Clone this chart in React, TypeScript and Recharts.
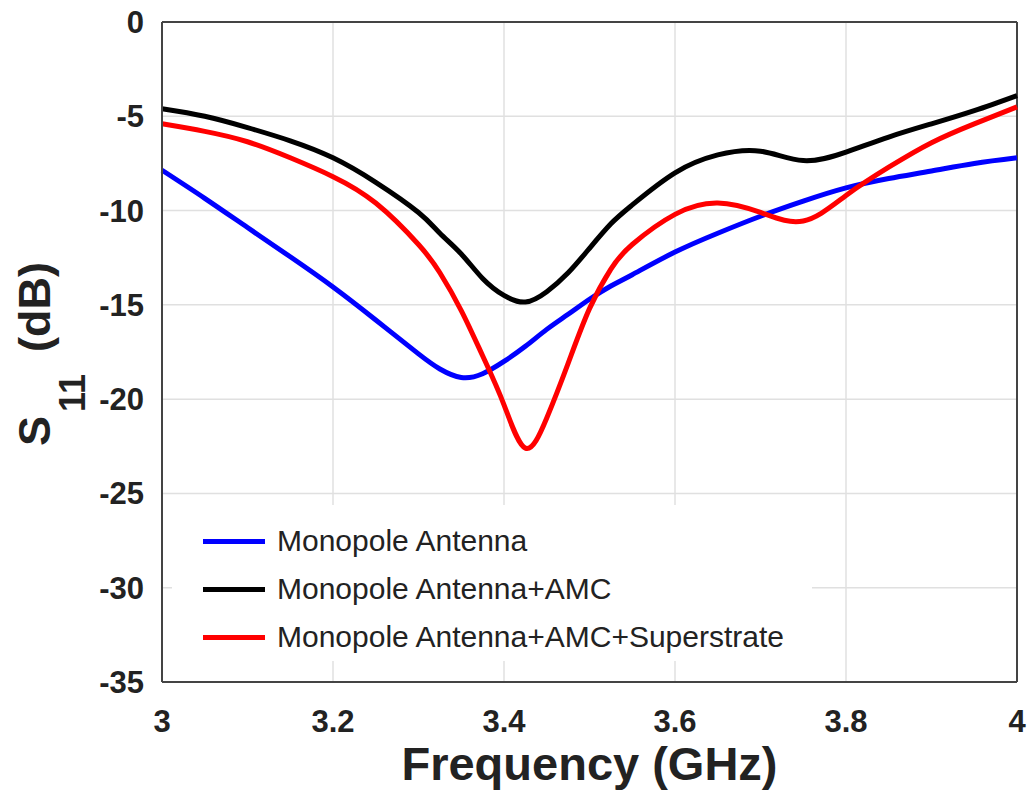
import React from "react";
import {
  LineChart,
  Line,
  XAxis,
  YAxis,
  CartesianGrid,
  Legend,
  ReferenceLine,
} from "recharts";

// frequency samples (GHz)
const freqs = [
  3.0, 3.05, 3.1, 3.15, 3.2, 3.25, 3.3, 3.325, 3.35, 3.375, 3.4, 3.425, 3.45,
  3.475, 3.5, 3.525, 3.55, 3.6, 3.65, 3.7, 3.75, 3.8, 3.85, 3.9, 3.95, 4.0,
];

// S11 (dB)
const monopole = [
  -7.86, -9.35, -10.9, -12.45, -14.05, -15.8, -17.6, -18.4, -18.85, -18.65,
  -18.0, -17.2, -16.3, -15.5, -14.7, -14.0, -13.4, -12.2, -11.2, -10.3, -9.5,
  -8.8, -8.3, -7.9, -7.5, -7.2,
];
const monopoleAmc = [
  -4.6, -5.0, -5.6, -6.3, -7.2, -8.5, -10.1, -11.2, -12.3, -13.6, -14.5,
  -14.85, -14.3, -13.3, -12.0, -10.7, -9.7, -8.0, -7.05, -6.85, -7.35, -6.9,
  -6.1, -5.4, -4.7, -3.9,
];
const monopoleAmcSuper = [
  -5.4, -5.8, -6.35, -7.2, -8.2, -9.6, -11.8, -13.3, -15.3, -17.7, -20.3,
  -22.6, -21.0, -18.1, -15.2, -13.1, -11.8, -10.2, -9.6, -10.1, -10.55, -9.2,
  -7.7, -6.4, -5.4, -4.5,
];

const seriesNames = [
  "Monopole Antenna",
  "Monopole Antenna+AMC",
  "Monopole Antenna+AMC+Superstrate",
];
const seriesColors = ["#0000ff", "#000000", "#ff0000"];

const xTicks = [3, 3.2, 3.4, 3.6, 3.8, 4];
const yTicks = [0, -5, -10, -15, -20, -25, -30, -35];

const data = freqs.map((f, i) => ({
  f,
  a: monopole[i],
  b: monopoleAmc[i],
  c: monopoleAmcSuper[i],
}));

const FONT = '"Liberation Sans", Arial, Helvetica, sans-serif';

const XLabel = (props: any) => {
  const { viewBox } = props;
  return (
    <text
      x={viewBox.x + viewBox.width / 2}
      y={viewBox.y + 98}
      textAnchor="middle"
      fontFamily={FONT}
      fontWeight="bold"
      fontSize={47}
      fill="#222"
    >
      Frequency (GHz)
    </text>
  );
};

const YLabel = (props: any) => {
  const { viewBox } = props;
  const cx = 50;
  const cy = viewBox.y + viewBox.height / 2 + 2;
  return (
    <text
      x={cx}
      y={cy}
      transform={`rotate(-90, ${cx}, ${cy})`}
      textAnchor="middle"
      fontFamily={FONT}
      fontWeight="bold"
      fontSize={45}
      fill="#222"
    >
      <tspan>S</tspan>
      <tspan dx={4} dy={35} fontSize={36}>11</tspan>
      <tspan dx={22} dy={-35}>(dB)</tspan>
    </text>
  );
};

const LegendBox = (props: any) => {
  const { payload } = props;
  return (
    <div style={{ background: "#fff", padding: "12px 0 0 31px", fontFamily: FONT }}>
      {(payload || []).map((entry: any) => (
        <div
          key={entry.value}
          style={{ display: "flex", alignItems: "center", height: 48, fontSize: 30, color: "#222" }}
        >
          <span
            style={{ display: "inline-block", width: 62, height: 5, background: entry.color, marginRight: 12 }}
          />
          <span style={{ whiteSpace: "nowrap" }}>{entry.value}</span>
        </div>
      ))}
    </div>
  );
};

export default function App() {
  return (
    <div style={{ position: "absolute", left: 0, top: 0, width: 1027, height: 795, background: "#fff" }}>
      <LineChart
        width={1027}
        height={795}
        data={data}
        margin={{ top: 22, right: 10, left: 0, bottom: 0 }}
      >
        <CartesianGrid stroke="#e0e0e0" strokeWidth={1.5} />
        <XAxis
          dataKey="f"
          type="number"
          domain={[3, 4]}
          ticks={xTicks}
          height={113}
          tickLine={false}
          tickSize={6}
          tickMargin={22}
          stroke="#444"
          strokeWidth={2}
          tick={{ fill: "#222", fontSize: 31, fontWeight: "bold", fontFamily: FONT }}
          label={<XLabel />}
        />
        <YAxis
          type="number"
          domain={[-35, 0]}
          ticks={yTicks}
          width={162}
          tickLine={false}
          tickSize={6}
          tickMargin={12}
          stroke="#444"
          strokeWidth={2}
          tick={{ fill: "#222", fontSize: 31, fontWeight: "bold", fontFamily: FONT }}
          label={<YLabel />}
        />
        <ReferenceLine y={0} stroke="#444" strokeWidth={2} />
        <ReferenceLine x={4} stroke="#444" strokeWidth={2} />
        <Legend
          layout="horizontal"
          verticalAlign="middle"
          align="center"
          content={<LegendBox />}
          wrapperStyle={{ left: 172, top: 505, width: 640, height: 163 }}
        />
        <Line
          type="natural"
          dataKey="a"
          name={seriesNames[0]}
          stroke={seriesColors[0]}
          strokeWidth={5}
          dot={false}
          isAnimationActive={false}
        />
        <Line
          type="natural"
          dataKey="b"
          name={seriesNames[1]}
          stroke={seriesColors[1]}
          strokeWidth={5}
          dot={false}
          isAnimationActive={false}
        />
        <Line
          type="natural"
          dataKey="c"
          name={seriesNames[2]}
          stroke={seriesColors[2]}
          strokeWidth={5}
          dot={false}
          isAnimationActive={false}
        />
      </LineChart>
    </div>
  );
}
